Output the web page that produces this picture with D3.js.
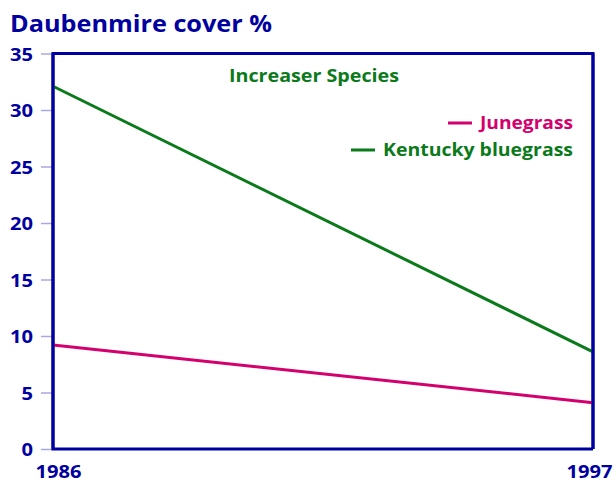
<!DOCTYPE html>
<html><head><meta charset="utf-8">
<script src="https://cdn.jsdelivr.net/npm/d3@7"></script>
<style>body{margin:0;background:#fff}svg{display:block}text{font-family:"Open Sans",sans-serif;font-weight:bold}</style>
</head><body>
<script>
const years = [1986, 1997];
const junegrass = [9.2, 4.1];
const kentucky = [32.1, 8.6];
const yTicks = [0, 5, 10, 15, 20, 25, 30, 35];
const seriesNames = ["Junegrass", "Kentucky bluegrass"];
const titleText = "Daubenmire cover %";
const subtitleText = "Increaser Species";

const W = 616, H = 482;
const m = {left: 53, right: 23, top: 53.5, bottom: 33};
const blue = "#0000a0", green = "#0a7a1a", pink = "#d4006e";
const font = "'Open Sans', sans-serif";
const svg = d3.select("body").append("svg").attr("width", W).attr("height", H);
const x = d3.scaleLinear().domain(d3.extent(years)).range([m.left, W - m.right]);
const y = d3.scaleLinear().domain([0, 35]).range([H - m.bottom, m.top]);

function fit(sel, w) {
  sel.attr("textLength", w).attr("lengthAdjust", "spacingAndGlyphs");
}

// y tick marks + labels
const ya = svg.append("g").attr("transform", `translate(${m.left},0)`)
  .call(d3.axisLeft(y).tickValues(yTicks).tickSize(12).tickPadding(8));
ya.select(".domain").remove();
ya.selectAll(".tick line").attr("stroke", "#a8a8e0").attr("stroke-width", 1.5);
ya.selectAll(".tick text").attr("fill", blue).attr("font-size", 18.5).attr("font-family", font).attr("font-weight", "bold").attr("dy", "0.36em")
  .each(function(d) { fit(d3.select(this), String(d).length * 11.5); });

// x labels
const xa = svg.append("g").attr("transform", `translate(0,${H - m.bottom})`)
  .call(d3.axisBottom(x).tickValues(years).tickFormat(d3.format("d")).tickSize(0).tickPadding(0));
xa.select(".domain").remove();
xa.selectAll(".tick text").attr("fill", blue).attr("font-size", 18).attr("font-family", font).attr("font-weight", "bold").attr("dy", 0).attr("y", 29)
  .each(function() { fit(d3.select(this), 46); });
xa.selectAll(".tick").filter(d => d === 1986).select("text").attr("dx", 5);
xa.selectAll(".tick").filter(d => d === 1997).select("text").attr("dx", -4);

// frame
svg.append("path")
  .attr("d", `M${x(1997)},${y(0)}H${x(1986)}V${y(35)}H${x(1997)}V${y(0)}`)
  .attr("fill", "none").attr("stroke", blue).attr("stroke-width", 3);

const line = d3.line().x((d, i) => x(years[i])).y(d => y(d));
svg.append("path").datum(kentucky).attr("d", line).attr("fill", "none").attr("stroke", green).attr("stroke-width", 3);
svg.append("path").datum(junegrass).attr("d", line).attr("fill", "none").attr("stroke", pink).attr("stroke-width", 3);

svg.append("line").attr("x1", x(1997)).attr("x2", x(1997)).attr("y1", y(35)).attr("y2", y(0)).attr("stroke", blue).attr("stroke-width", 3);
svg.append("line").attr("x1", x(1986)).attr("x2", x(1986)).attr("y1", y(35)).attr("y2", y(0)).attr("stroke", blue).attr("stroke-width", 3);

const title = svg.append("text").attr("x", 10).attr("y", 32).attr("fill", blue).attr("font-size", 24).text(titleText);
fit(title, 262);
const sub = svg.append("text").attr("x", 229).attr("y", 82).attr("fill", green).attr("font-size", 18).text(subtitleText);
fit(sub, 170);

const leg = [{name: seriesNames[0], color: pink, y: 123, w: 93}, {name: seriesNames[1], color: green, y: 150, w: 190}];
leg.forEach(l => {
  const t = svg.append("text").attr("x", 573 - l.w).attr("y", l.y + 6).attr("fill", l.color).attr("font-size", 18).text(l.name);
  fit(t, l.w);
  const x0 = 573 - l.w;
  svg.append("line").attr("x1", x0 - 32).attr("x2", x0 - 8).attr("y1", l.y).attr("y2", l.y).attr("stroke", l.color).attr("stroke-width", 3);
});
</script>
</body></html>
